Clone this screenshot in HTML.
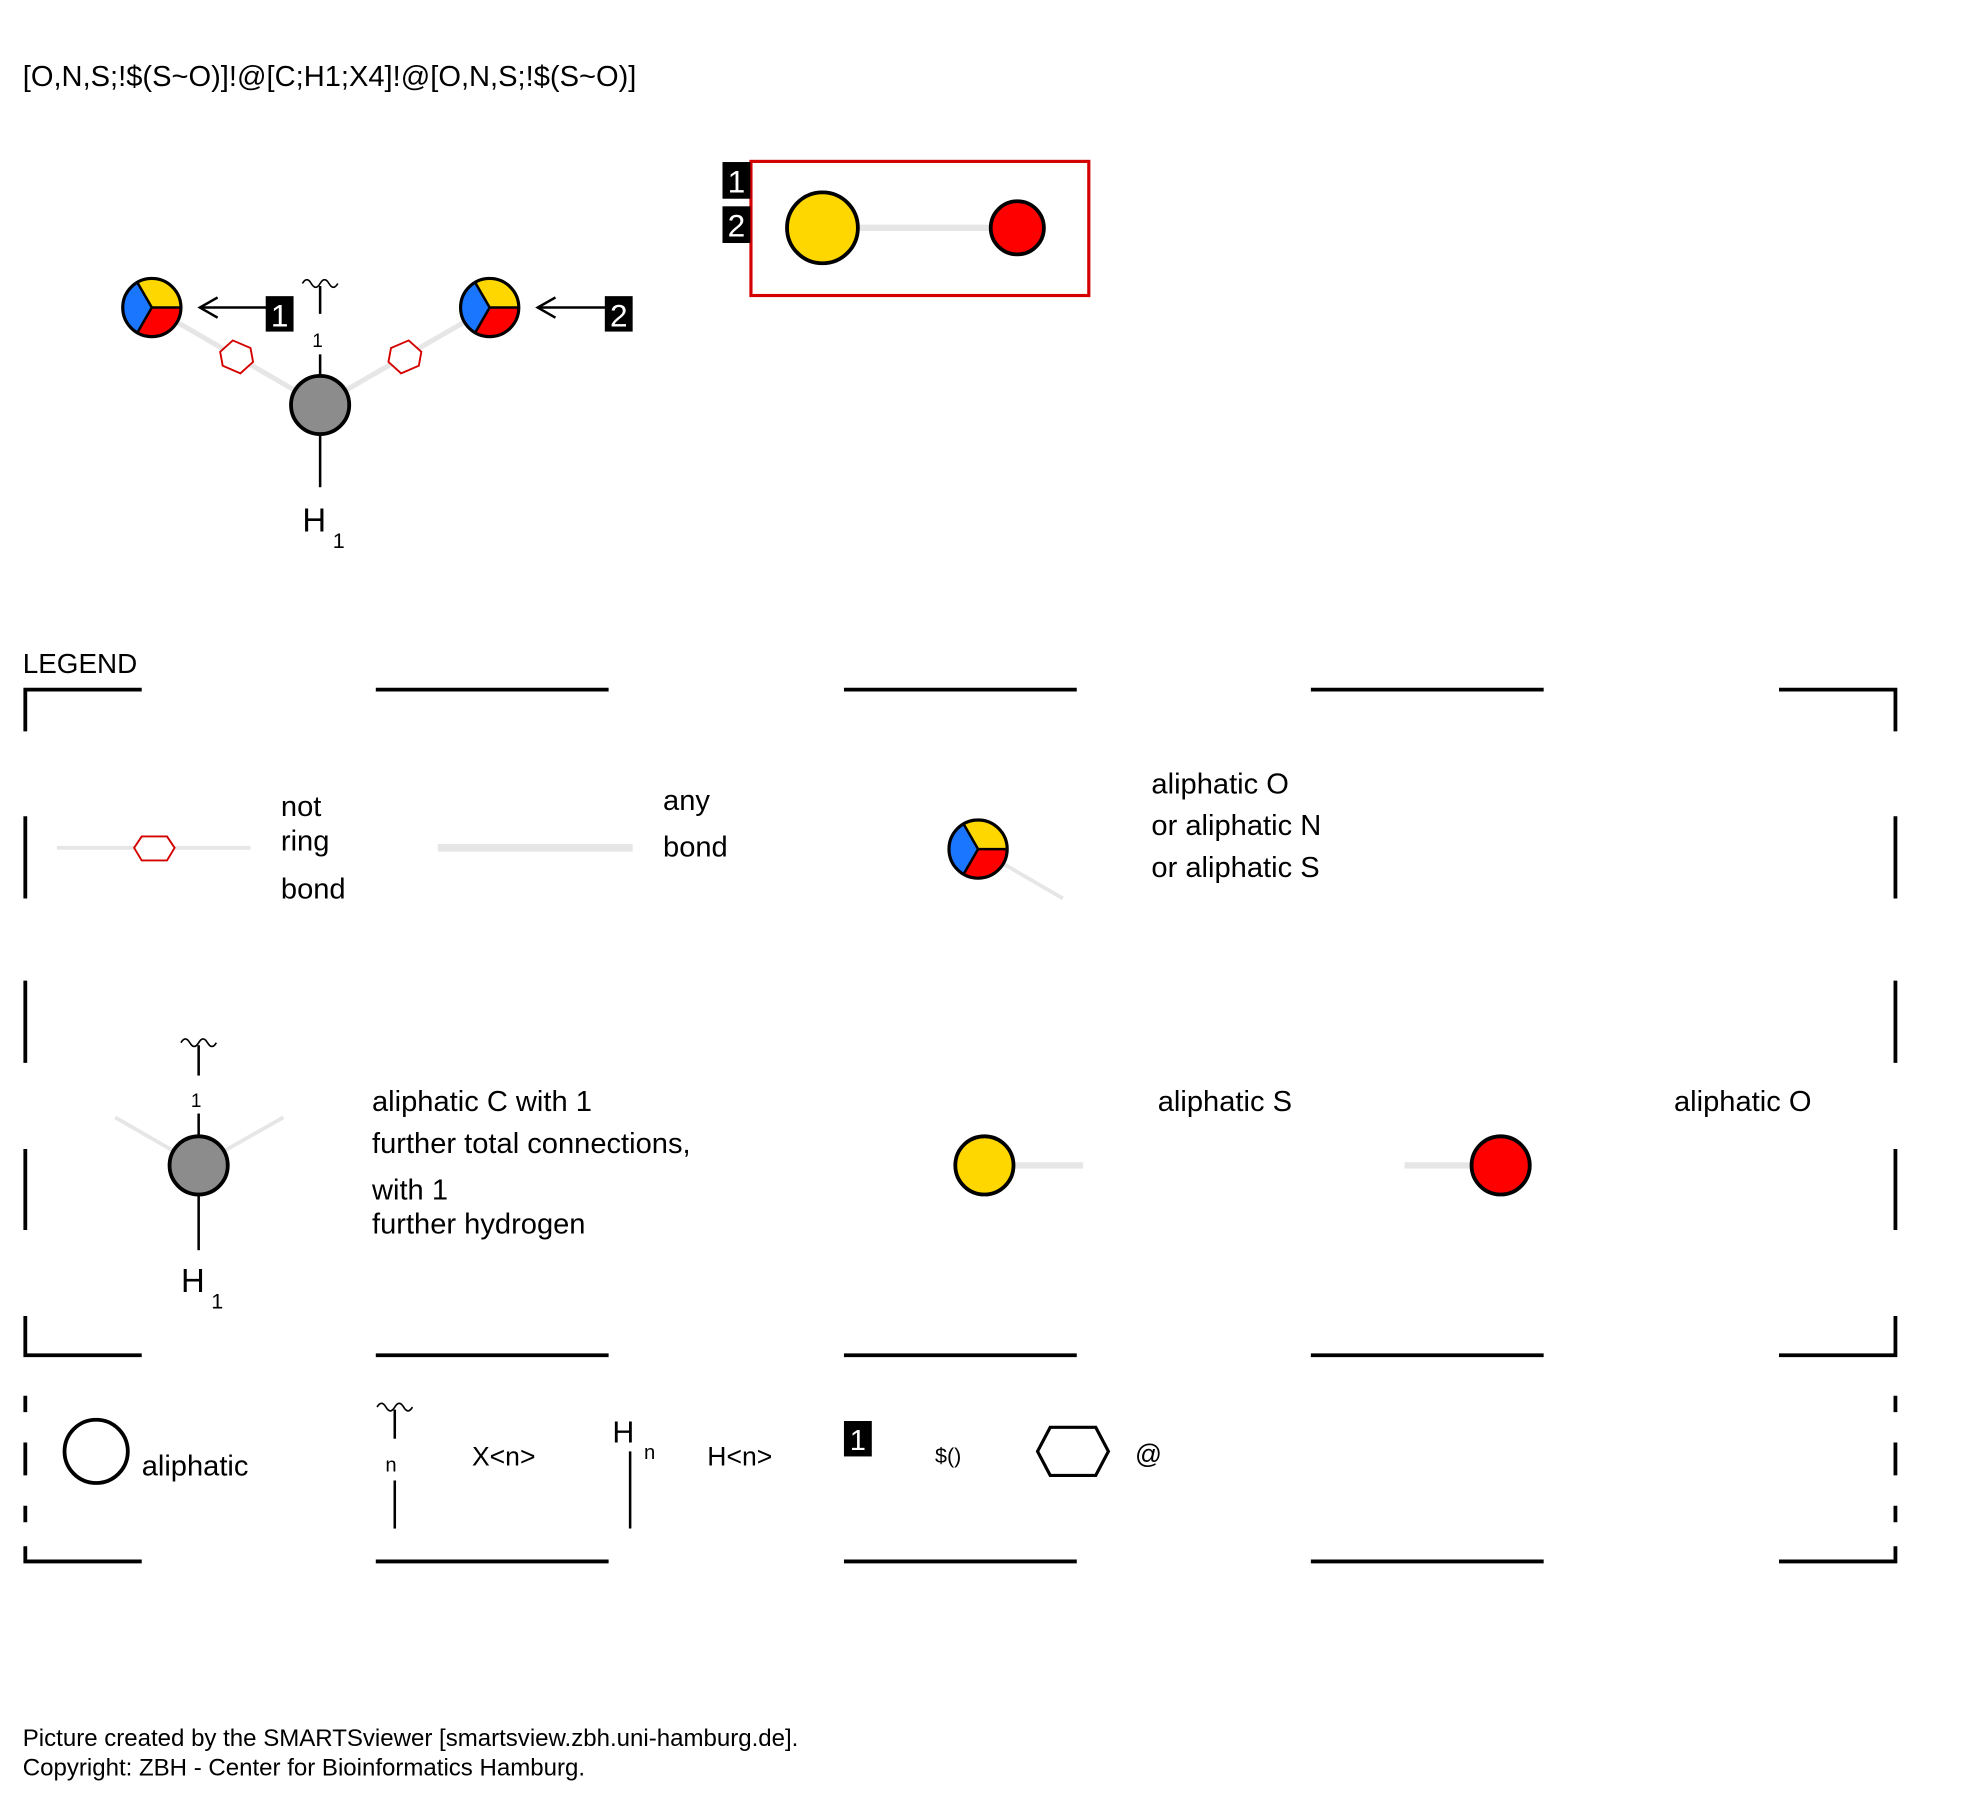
<!DOCTYPE html>
<html><head><meta charset="utf-8"><style>
html,body{margin:0;padding:0;background:#fff;}
svg{display:block;}
text{font-family:"Liberation Sans","DejaVu Sans",sans-serif;fill:#000;}
</style></head><body>
<svg width="1984" height="1807" viewBox="0 0 1568 1428" xmlns="http://www.w3.org/2000/svg">
<defs>
<g id="pie">
<path d="M0,0 L-11.5,-19.9 A23,23 0 0 1 23,0 Z" fill="#ffd700"/>
<path d="M0,0 L23,0 A23,23 0 0 1 -11.5,19.9 Z" fill="#ff0000"/>
<path d="M0,0 L-11.5,19.9 A23,23 0 0 1 -11.5,-19.9 Z" fill="#1a75ff"/>
<path d="M-11.5,-19.9 L0,0 L23,0 M0,0 L-11.5,19.9" stroke="#000" stroke-width="2" fill="none"/>
<circle r="23" fill="none" stroke="#000" stroke-width="2.5"/>
</g>
<path id="hex" d="M-13,-4 L-3,-13 L11,-7 L13,4 L3,13 L-11,7 Z" fill="#fff" stroke="#d40000" stroke-width="1.5"/>
</defs>

<text x="18" y="68" font-size="23">[O,N,S;!$(S~O)]!@[C;H1;X4]!@[O,N,S;!$(S~O)]</text>

<!-- molecule -->
<line x1="120" y1="243" x2="253" y2="320" stroke="#e6e6e6" stroke-width="4"/>
<line x1="387" y1="243" x2="253" y2="320" stroke="#e6e6e6" stroke-width="4"/>
<use href="#hex" x="187" y="282"/>
<g transform="translate(320,282) scale(-1,1)"><use href="#hex"/></g>
<use href="#pie" x="120" y="243"/>
<use href="#pie" x="387" y="243"/>
<line x1="253" y1="280" x2="253" y2="297" stroke="#000" stroke-width="2"/>
<text x="251" y="274" font-size="15" text-anchor="middle">1</text>
<line x1="253" y1="226" x2="253" y2="248" stroke="#000" stroke-width="2"/>
<path d="M239,224 Q242.5,218 246,224 Q249.5,230 253,224 Q256.5,218 260,224 Q263.5,230 267,224" fill="none" stroke="#000" stroke-width="1.3"/>
<circle cx="253" cy="320" r="23" fill="#8c8c8c" stroke="#000" stroke-width="3"/>
<line x1="253" y1="343" x2="253" y2="385" stroke="#000" stroke-width="2"/>
<text x="239" y="420" font-size="26">H</text>
<text x="263" y="433" font-size="17">1</text>
<!-- arrows -->
<line x1="158" y1="243" x2="212" y2="243" stroke="#000" stroke-width="2"/>
<path d="M172,235 L158,243 L172,251" fill="none" stroke="#000" stroke-width="2"/>
<rect x="210" y="234" width="22" height="28" fill="#000"/>
<text x="221" y="258" font-size="25" text-anchor="middle" style="fill:#fff">1</text>
<line x1="425" y1="243" x2="480" y2="243" stroke="#000" stroke-width="2"/>
<path d="M439,235 L425,243 L439,251" fill="none" stroke="#000" stroke-width="2"/>
<rect x="478" y="234" width="22" height="28" fill="#000"/>
<text x="489" y="258" font-size="25" text-anchor="middle" style="fill:#fff">2</text>

<!-- red box -->
<rect x="593.5" y="127.5" width="267" height="106" fill="none" stroke="#d40000" stroke-width="2.5"/>
<rect x="571" y="128" width="22" height="29" fill="#000"/>
<text x="582" y="152" font-size="25" text-anchor="middle" style="fill:#fff">1</text>
<rect x="571" y="163" width="22" height="29" fill="#000"/>
<text x="582" y="187" font-size="25" text-anchor="middle" style="fill:#fff">2</text>
<line x1="650" y1="180" x2="804" y2="180" stroke="#e6e6e6" stroke-width="5"/>
<circle cx="650" cy="180" r="28" fill="#ffd700" stroke="#000" stroke-width="3"/>
<circle cx="804" cy="180" r="21" fill="#ff0000" stroke="#000" stroke-width="3"/>

<!-- legend -->
<text x="18" y="532" font-size="22">LEGEND</text>
<g stroke="#000" stroke-width="3" fill="none">
<path d="M20,578 V545 H112 M297,545 H481 M667,545 H851 M1036,545 H1220 M1406,545 H1498 V578"/>
<path d="M20,645 V710 M20,775 V840 M20,908 V972 M1498,645 V710 M1498,775 V840 M1498,908 V972"/>
<path d="M20,1040 V1071 H112 M297,1071 H481 M667,1071 H851 M1036,1071 H1220 M1406,1071 H1498 V1040"/>
<path d="M20,1103 V1116 M20,1140 V1166 M20,1190 V1203 M1498,1103 V1116 M1498,1140 V1166 M1498,1190 V1203"/>
<path d="M20,1222 V1234 H112 M297,1234 H481 M667,1234 H851 M1036,1234 H1220 M1406,1234 H1498 V1222"/>
</g>

<!-- row 1 -->
<line x1="45" y1="670" x2="198" y2="670" stroke="#e6e6e6" stroke-width="3"/>
<path d="M106,670 L112,661 L132,661 L138,670 L132,680 L112,680 Z" fill="#fff" stroke="#d40000" stroke-width="1.5"/>
<text x="222" y="645" font-size="23">not</text>
<text x="222" y="672" font-size="23">ring</text>
<text x="222" y="710" font-size="23">bond</text>
<line x1="346" y1="670" x2="500" y2="670" stroke="#e6e6e6" stroke-width="6"/>
<text x="524" y="640" font-size="23">any</text>
<text x="524" y="677" font-size="23">bond</text>
<line x1="773" y1="671" x2="840" y2="710" stroke="#e6e6e6" stroke-width="3"/>
<use href="#pie" x="773" y="671"/>
<text x="910" y="627" font-size="23">aliphatic O</text>
<text x="910" y="660" font-size="23">or aliphatic N</text>
<text x="910" y="693" font-size="23">or aliphatic S</text>

<!-- row 2 -->
<path d="M91,883 L157,921 L224,883" fill="none" stroke="#e6e6e6" stroke-width="3"/>
<line x1="157" y1="880" x2="157" y2="898" stroke="#000" stroke-width="2"/>
<text x="155" y="875" font-size="15" text-anchor="middle">1</text>
<line x1="157" y1="826" x2="157" y2="850" stroke="#000" stroke-width="2"/>
<path d="M143,824 Q146.5,818 150,824 Q153.5,830 157,824 Q160.5,818 164,824 Q167.5,830 171,824" fill="none" stroke="#000" stroke-width="1.3"/>
<circle cx="157" cy="921" r="23" fill="#8c8c8c" stroke="#000" stroke-width="3"/>
<line x1="157" y1="944" x2="157" y2="988" stroke="#000" stroke-width="2"/>
<text x="143" y="1021" font-size="26">H</text>
<text x="167" y="1034" font-size="17">1</text>
<text x="294" y="878" font-size="23">aliphatic C with 1</text>
<text x="294" y="911" font-size="23">further total connections,</text>
<text x="294" y="948" font-size="23">with 1</text>
<text x="294" y="975" font-size="23">further hydrogen</text>
<line x1="778" y1="921" x2="856" y2="921" stroke="#e6e6e6" stroke-width="5"/>
<circle cx="778" cy="921" r="23" fill="#ffd700" stroke="#000" stroke-width="3"/>
<text x="915" y="878" font-size="23">aliphatic S</text>
<line x1="1110" y1="921" x2="1186" y2="921" stroke="#e6e6e6" stroke-width="5"/>
<circle cx="1186" cy="921" r="23" fill="#ff0000" stroke="#000" stroke-width="3"/>
<text x="1323" y="878" font-size="23">aliphatic O</text>

<!-- row 3 -->
<circle cx="76" cy="1147" r="25" fill="none" stroke="#000" stroke-width="3"/>
<text x="112" y="1166" font-size="23">aliphatic</text>
<path d="M298,1112 Q301.5,1106 305,1112 Q308.5,1118 312,1112 Q315.5,1106 319,1112 Q322.5,1118 326,1112" fill="none" stroke="#000" stroke-width="1.3"/>
<line x1="312" y1="1114" x2="312" y2="1137" stroke="#000" stroke-width="2"/>
<text x="309" y="1163" font-size="16" text-anchor="middle">n</text>
<line x1="312" y1="1170" x2="312" y2="1208" stroke="#000" stroke-width="2"/>
<text x="373" y="1158" font-size="21">X&lt;n&gt;</text>
<text x="484" y="1140" font-size="24">H</text>
<text x="509" y="1153" font-size="16">n</text>
<line x1="498" y1="1147" x2="498" y2="1208" stroke="#000" stroke-width="2"/>
<text x="559" y="1158" font-size="21">H&lt;n&gt;</text>
<rect x="667" y="1123" width="22" height="28" fill="#000"/>
<text x="678" y="1146" font-size="23" text-anchor="middle" style="fill:#fff">1</text>
<text x="739" y="1156" font-size="17">$()</text>
<path d="M820,1147 L830,1128 L866,1128 L876,1147 L866,1166 L830,1166 Z" fill="none" stroke="#000" stroke-width="2.5"/>
<text x="897" y="1156" font-size="21">@</text>

<text x="18" y="1380" font-size="19">Picture created by the SMARTSviewer [smartsview.zbh.uni-hamburg.de].</text>
<text x="18" y="1403" font-size="19">Copyright: ZBH - Center for Bioinformatics Hamburg.</text>
</svg>
</body></html>
